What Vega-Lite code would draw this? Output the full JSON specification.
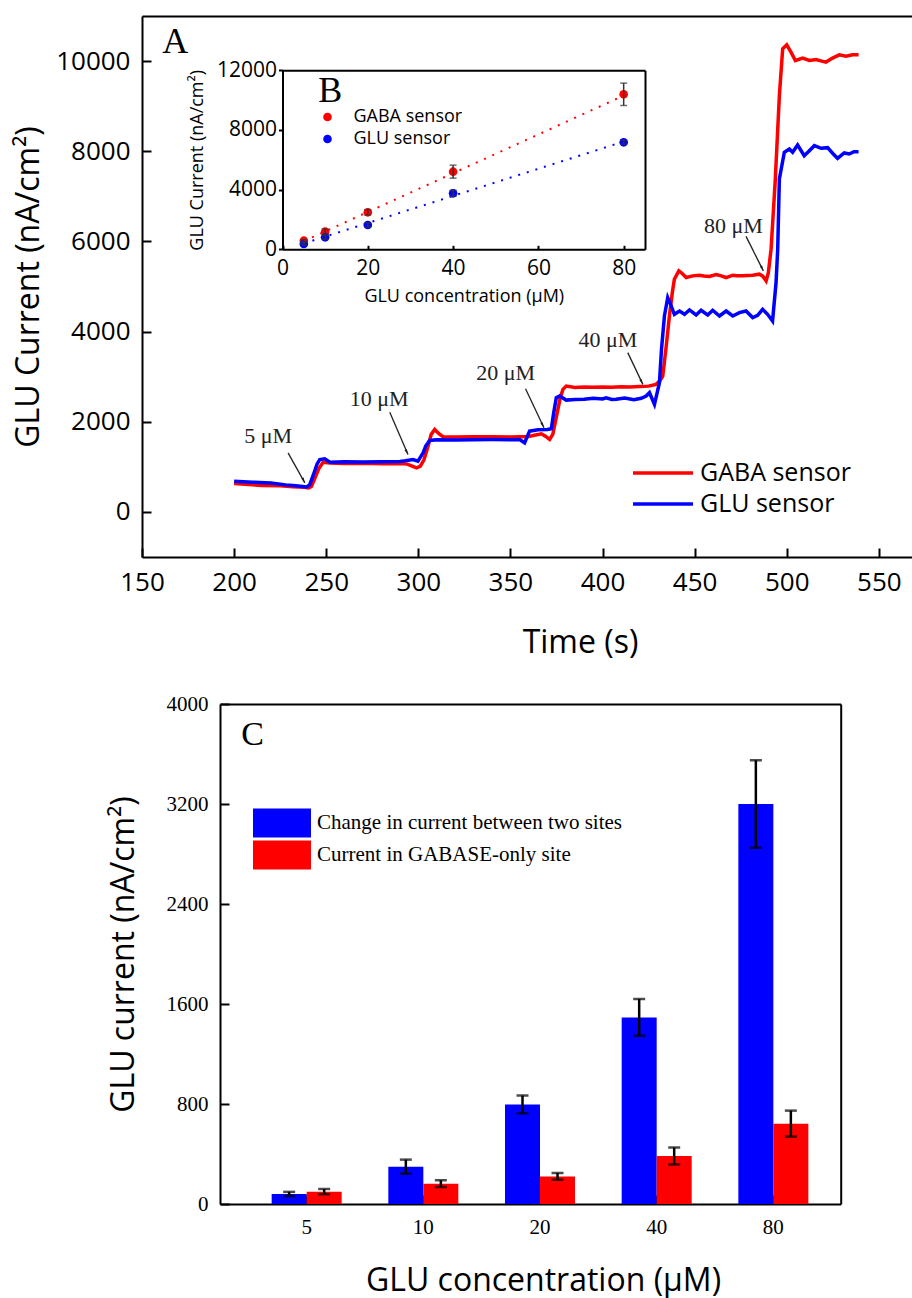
{
  "$schema": "https://vega.github.io/schema/vega-lite/v6.json",
  "width": 912,
  "height": 1298,
  "autosize": {"type": "none"},
  "padding": 0,
  "background": "white",
  "config": {
    "view": {"stroke": null},
    "axis": {"grid": false, "domainColor": "black", "tickColor": "black", "labelColor": "black", "titleColor": "black", "domainWidth": 2, "tickWidth": 2, "labelFlush": false, "labelOverlap": false, "titleFontWeight": "normal", "labelFontWeight": "normal"},
    "legend": {"labelColor": "black", "labelLimit": 0}
  },
  "datasets": {
    "ts": [
      {"t":200,"v":630,"s":"GABA sensor"},{"t":210,"v":600,"s":"GABA sensor"},{"t":215,"v":588,"s":"GABA sensor"},{"t":225,"v":578,"s":"GABA sensor"},{"t":232,"v":560,"s":"GABA sensor"},{"t":238,"v":545,"s":"GABA sensor"},{"t":240.5,"v":533,"s":"GABA sensor"},{"t":242,"v":570,"s":"GABA sensor"},{"t":244,"v":760,"s":"GABA sensor"},{"t":246,"v":960,"s":"GABA sensor"},{"t":248.3,"v":1100,"s":"GABA sensor"},{"t":252,"v":1085,"s":"GABA sensor"},{"t":260,"v":1075,"s":"GABA sensor"},{"t":270,"v":1080,"s":"GABA sensor"},{"t":280,"v":1070,"s":"GABA sensor"},{"t":290,"v":1075,"s":"GABA sensor"},{"t":294,"v":1060,"s":"GABA sensor"},{"t":297,"v":1010,"s":"GABA sensor"},{"t":299,"v":978,"s":"GABA sensor"},{"t":301,"v":1010,"s":"GABA sensor"},{"t":303,"v":1150,"s":"GABA sensor"},{"t":305,"v":1420,"s":"GABA sensor"},{"t":307,"v":1720,"s":"GABA sensor"},{"t":308.9,"v":1829,"s":"GABA sensor"},{"t":311,"v":1740,"s":"GABA sensor"},{"t":313.4,"v":1667,"s":"GABA sensor"},{"t":320,"v":1660,"s":"GABA sensor"},{"t":330,"v":1665,"s":"GABA sensor"},{"t":340,"v":1670,"s":"GABA sensor"},{"t":350,"v":1662,"s":"GABA sensor"},{"t":360,"v":1675,"s":"GABA sensor"},{"t":363,"v":1700,"s":"GABA sensor"},{"t":366.8,"v":1733,"s":"GABA sensor"},{"t":369,"v":1680,"s":"GABA sensor"},{"t":371.3,"v":1607,"s":"GABA sensor"},{"t":373,"v":1720,"s":"GABA sensor"},{"t":375,"v":2120,"s":"GABA sensor"},{"t":377,"v":2520,"s":"GABA sensor"},{"t":378.5,"v":2718,"s":"GABA sensor"},{"t":380.3,"v":2791,"s":"GABA sensor"},{"t":385,"v":2760,"s":"GABA sensor"},{"t":390,"v":2770,"s":"GABA sensor"},{"t":395,"v":2765,"s":"GABA sensor"},{"t":400,"v":2770,"s":"GABA sensor"},{"t":405,"v":2765,"s":"GABA sensor"},{"t":410,"v":2775,"s":"GABA sensor"},{"t":415,"v":2770,"s":"GABA sensor"},{"t":420,"v":2780,"s":"GABA sensor"},{"t":425,"v":2790,"s":"GABA sensor"},{"t":429,"v":2829,"s":"GABA sensor"},{"t":431,"v":2900,"s":"GABA sensor"},{"t":432.7,"v":3013,"s":"GABA sensor"},{"t":434.5,"v":3650,"s":"GABA sensor"},{"t":436.3,"v":4346,"s":"GABA sensor"},{"t":438,"v":4900,"s":"GABA sensor"},{"t":439,"v":5162,"s":"GABA sensor"},{"t":441.4,"v":5346,"s":"GABA sensor"},{"t":443,"v":5300,"s":"GABA sensor"},{"t":445.4,"v":5199,"s":"GABA sensor"},{"t":449,"v":5236,"s":"GABA sensor"},{"t":452.6,"v":5251,"s":"GABA sensor"},{"t":455,"v":5235,"s":"GABA sensor"},{"t":458,"v":5222,"s":"GABA sensor"},{"t":461.7,"v":5266,"s":"GABA sensor"},{"t":464,"v":5240,"s":"GABA sensor"},{"t":467.1,"v":5199,"s":"GABA sensor"},{"t":470.7,"v":5251,"s":"GABA sensor"},{"t":473,"v":5240,"s":"GABA sensor"},{"t":476.1,"v":5236,"s":"GABA sensor"},{"t":478.5,"v":5245,"s":"GABA sensor"},{"t":481.5,"v":5251,"s":"GABA sensor"},{"t":485.1,"v":5273,"s":"GABA sensor"},{"t":487,"v":5230,"s":"GABA sensor"},{"t":488.8,"v":5124,"s":"GABA sensor"},{"t":490,"v":5300,"s":"GABA sensor"},{"t":491.5,"v":5829,"s":"GABA sensor"},{"t":493.8,"v":7384,"s":"GABA sensor"},{"t":496,"v":9235,"s":"GABA sensor"},{"t":497.8,"v":10272,"s":"GABA sensor"},{"t":500,"v":10361,"s":"GABA sensor"},{"t":502.3,"v":10199,"s":"GABA sensor"},{"t":504.7,"v":10013,"s":"GABA sensor"},{"t":508.6,"v":10066,"s":"GABA sensor"},{"t":512.3,"v":10013,"s":"GABA sensor"},{"t":515.9,"v":10035,"s":"GABA sensor"},{"t":519,"v":10000,"s":"GABA sensor"},{"t":521.3,"v":9977,"s":"GABA sensor"},{"t":524.9,"v":10066,"s":"GABA sensor"},{"t":528.5,"v":10139,"s":"GABA sensor"},{"t":532.2,"v":10110,"s":"GABA sensor"},{"t":535.7,"v":10139,"s":"GABA sensor"},{"t":539,"v":10139,"s":"GABA sensor"},
      {"t":200,"v":680,"s":"GLU sensor"},{"t":210,"v":660,"s":"GLU sensor"},{"t":220,"v":640,"s":"GLU sensor"},{"t":228,"v":600,"s":"GLU sensor"},{"t":232,"v":584,"s":"GLU sensor"},{"t":236,"v":570,"s":"GLU sensor"},{"t":239.3,"v":555,"s":"GLU sensor"},{"t":241,"v":600,"s":"GLU sensor"},{"t":243,"v":820,"s":"GLU sensor"},{"t":245,"v":1060,"s":"GLU sensor"},{"t":246.5,"v":1162,"s":"GLU sensor"},{"t":249.2,"v":1177,"s":"GLU sensor"},{"t":252,"v":1102,"s":"GLU sensor"},{"t":260,"v":1110,"s":"GLU sensor"},{"t":270,"v":1105,"s":"GLU sensor"},{"t":280,"v":1112,"s":"GLU sensor"},{"t":290,"v":1120,"s":"GLU sensor"},{"t":293,"v":1135,"s":"GLU sensor"},{"t":297.1,"v":1162,"s":"GLU sensor"},{"t":299.8,"v":1124,"s":"GLU sensor"},{"t":302.6,"v":1311,"s":"GLU sensor"},{"t":304,"v":1460,"s":"GLU sensor"},{"t":306.2,"v":1584,"s":"GLU sensor"},{"t":310,"v":1600,"s":"GLU sensor"},{"t":320,"v":1595,"s":"GLU sensor"},{"t":330,"v":1602,"s":"GLU sensor"},{"t":340,"v":1605,"s":"GLU sensor"},{"t":350,"v":1600,"s":"GLU sensor"},{"t":355,"v":1607,"s":"GLU sensor"},{"t":357.7,"v":1533,"s":"GLU sensor"},{"t":359,"v":1660,"s":"GLU sensor"},{"t":360.4,"v":1791,"s":"GLU sensor"},{"t":365,"v":1820,"s":"GLU sensor"},{"t":370,"v":1830,"s":"GLU sensor"},{"t":372.2,"v":1844,"s":"GLU sensor"},{"t":373.5,"v":2200,"s":"GLU sensor"},{"t":374.9,"v":2533,"s":"GLU sensor"},{"t":376.7,"v":2569,"s":"GLU sensor"},{"t":380.3,"v":2480,"s":"GLU sensor"},{"t":385,"v":2492,"s":"GLU sensor"},{"t":390,"v":2500,"s":"GLU sensor"},{"t":395,"v":2522,"s":"GLU sensor"},{"t":400,"v":2505,"s":"GLU sensor"},{"t":402,"v":2533,"s":"GLU sensor"},{"t":405,"v":2495,"s":"GLU sensor"},{"t":407.4,"v":2500,"s":"GLU sensor"},{"t":412,"v":2525,"s":"GLU sensor"},{"t":417,"v":2490,"s":"GLU sensor"},{"t":421,"v":2520,"s":"GLU sensor"},{"t":423.7,"v":2569,"s":"GLU sensor"},{"t":425.5,"v":2644,"s":"GLU sensor"},{"t":428.2,"v":2384,"s":"GLU sensor"},{"t":430.9,"v":2866,"s":"GLU sensor"},{"t":432,"v":3600,"s":"GLU sensor"},{"t":433.6,"v":4346,"s":"GLU sensor"},{"t":435.4,"v":4755,"s":"GLU sensor"},{"t":437,"v":4600,"s":"GLU sensor"},{"t":439,"v":4384,"s":"GLU sensor"},{"t":441.8,"v":4457,"s":"GLU sensor"},{"t":444.5,"v":4384,"s":"GLU sensor"},{"t":447.2,"v":4480,"s":"GLU sensor"},{"t":450.8,"v":4369,"s":"GLU sensor"},{"t":453.5,"v":4473,"s":"GLU sensor"},{"t":457.1,"v":4369,"s":"GLU sensor"},{"t":459.8,"v":4473,"s":"GLU sensor"},{"t":463.5,"v":4346,"s":"GLU sensor"},{"t":467.1,"v":4457,"s":"GLU sensor"},{"t":470.7,"v":4346,"s":"GLU sensor"},{"t":474.3,"v":4421,"s":"GLU sensor"},{"t":477.9,"v":4457,"s":"GLU sensor"},{"t":481.5,"v":4311,"s":"GLU sensor"},{"t":484.2,"v":4362,"s":"GLU sensor"},{"t":486.9,"v":4495,"s":"GLU sensor"},{"t":489.6,"v":4384,"s":"GLU sensor"},{"t":492.3,"v":4235,"s":"GLU sensor"},{"t":494.2,"v":5088,"s":"GLU sensor"},{"t":495.1,"v":5829,"s":"GLU sensor"},{"t":496,"v":7384,"s":"GLU sensor"},{"t":498.7,"v":7977,"s":"GLU sensor"},{"t":501.4,"v":8050,"s":"GLU sensor"},{"t":503.2,"v":7977,"s":"GLU sensor"},{"t":505.9,"v":8139,"s":"GLU sensor"},{"t":509.5,"v":7902,"s":"GLU sensor"},{"t":512,"v":8000,"s":"GLU sensor"},{"t":515,"v":8124,"s":"GLU sensor"},{"t":518.6,"v":8066,"s":"GLU sensor"},{"t":522.2,"v":8079,"s":"GLU sensor"},{"t":525,"v":7950,"s":"GLU sensor"},{"t":527.6,"v":7844,"s":"GLU sensor"},{"t":531.2,"v":7962,"s":"GLU sensor"},{"t":533.9,"v":7939,"s":"GLU sensor"},{"t":536.5,"v":7990,"s":"GLU sensor"},{"t":539,"v":7991,"s":"GLU sensor"}
    ],
    "arrows": [
      {"label":"5 μM","t1":229.3,"v1":1311,"t2":238.4,"v2":644,"lt":218.5,"lv":1680},
      {"label":"10 μM","t1":284.5,"v1":2213,"t2":294.4,"v2":1273,"lt":278.7,"lv":2496},
      {"label":"20 μM","t1":358.2,"v1":2733,"t2":368.2,"v2":1867,"lt":347.4,"lv":3073},
      {"label":"40 μM","t1":413.7,"v1":3533,"t2":421.9,"v2":2829,"lt":402.9,"lv":3813},
      {"label":"80 μM","t1":477.9,"v1":6111,"t2":487.3,"v2":5347,"lt":471,"lv":6346}
    ],
    "panelA": [{"label":"A","t":168,"v":10430}],
    "inset": [
      {"c":5,"v":577,"lo":500,"hi":650,"s":"GABA sensor"},
      {"c":10,"v":1180,"lo":1000,"hi":1360,"s":"GABA sensor"},
      {"c":20,"v":2480,"lo":2300,"hi":2660,"s":"GABA sensor"},
      {"c":40,"v":5203,"lo":4770,"hi":5640,"s":"GABA sensor"},
      {"c":80,"v":10391,"lo":9640,"hi":11140,"s":"GABA sensor"},
      {"c":5,"v":355,"lo":280,"hi":430,"s":"GLU  sensor"},
      {"c":10,"v":804,"lo":680,"hi":930,"s":"GLU  sensor"},
      {"c":20,"v":1629,"lo":1500,"hi":1760,"s":"GLU  sensor"},
      {"c":40,"v":3754,"lo":3550,"hi":3960,"s":"GLU  sensor"},
      {"c":80,"v":7173,"lo":7050,"hi":7300,"s":"GLU  sensor"}
    ],
    "fits": [
      {"c":5,"v":550,"s":"GABA sensor"},{"c":80,"v":10300,"s":"GABA sensor"},
      {"c":5,"v":395,"s":"GLU  sensor"},{"c":80,"v":7220,"s":"GLU  sensor"}
    ],
    "panelB": [{"label":"B","c":11.2,"v":10612}],
    "bars": [
      {"conc":5,"g":"Change in current between two sites","v":80,"lo":63,"hi":97},
      {"conc":5,"g":"Current in GABASE-only site","v":99,"lo":78,"hi":120},
      {"conc":10,"g":"Change in current between two sites","v":299,"lo":243,"hi":355},
      {"conc":10,"g":"Current in GABASE-only site","v":163,"lo":136,"hi":190},
      {"conc":20,"g":"Change in current between two sites","v":797,"lo":726,"hi":868},
      {"conc":20,"g":"Current in GABASE-only site","v":221,"lo":194,"hi":248},
      {"conc":40,"g":"Change in current between two sites","v":1493,"lo":1346,"hi":1640},
      {"conc":40,"g":"Current in GABASE-only site","v":384,"lo":316,"hi":452},
      {"conc":80,"g":"Change in current between two sites","v":3200,"lo":2850,"hi":3550},
      {"conc":80,"g":"Current in GABASE-only site","v":643,"lo":539,"hi":747}
    ],
    "panelC": [{"label":"C","conc":5,"v":3752}]
  },
  "layer": [
    {
      "layer": [
        {
          "data": {"name": "ts"},
          "mark": {"type": "line", "strokeWidth": 3.5},
          "encoding": {
            "x": {"field": "t", "type": "quantitative", "scale": {"domain": [150, 568], "range": [142, 912], "nice": false, "zero": false},
              "axis": {"orient": "bottom", "offset": -741, "values": [150, 200, 250, 300, 350, 400, 450, 500, 550], "format": "d", "tickSize": -9, "labelPadding": 21, "labelFont": "Open Sans", "labelFontSize": 26, "title": "Time (s)", "titleFont": "Open Sans", "titleFontSize": 32, "titleX": 580, "titleY": 95, "titleBaseline": "alphabetic"}},
            "y": {"field": "v", "type": "quantitative", "scale": {"domain": [-1000, 11000], "range": [557, 16], "nice": false, "zero": false},
              "axis": {"orient": "left", "offset": -142, "values": [0, 2000, 4000, 6000, 8000, 10000], "format": "d", "tickSize": -9, "labelPadding": 21, "labelFont": "Open Sans", "labelFontSize": 26, "title": "GLU Current (nA/cm²)", "titleFont": "Open Sans", "titleFontSize": 32, "titleX": -104, "titleBaseline": "alphabetic"}},
            "color": {"field": "s", "type": "nominal", "scale": {"domain": ["GABA sensor", "GLU sensor"], "range": ["#ff0000", "#0000ff"]},
              "legend": {"orient": "none", "legendX": 631, "legendY": 457.5, "title": null, "symbolType": "stroke", "symbolSize": 3600, "symbolStrokeWidth": 3.5, "labelFont": "Open Sans", "labelFontSize": 25, "labelOffset": 5, "padding": 0, "rowPadding": 0, "clipHeight": 31}}
          }
        },
        {
          "data": {"name": "arrows"},
          "mark": {"type": "rule", "color": "#222222", "strokeWidth": 1.3},
          "encoding": {
            "x": {"field": "t1", "type": "quantitative", "scale": {"domain": [150, 568], "range": [142, 912], "nice": false, "zero": false},
              "axis": {"orient": "top", "offset": -16, "labels": false, "ticks": false, "title": null}},
            "y": {"field": "v1", "type": "quantitative", "scale": {"domain": [-1000, 11000], "range": [557, 16], "nice": false, "zero": false}, "axis": null},
            "x2": {"field": "t2"},
            "y2": {"field": "v2"}
          }
        },
        {
          "data": {"name": "arrows"},
          "mark": {"type": "point", "shape": "M0,0L-0.45,1.8L0.45,1.8Z", "filled": true, "color": "#222222", "opacity": 1, "size": 36, "angle": 154},
          "encoding": {
            "x": {"field": "t2", "type": "quantitative", "scale": {"domain": [150, 568], "range": [142, 912], "nice": false, "zero": false}, "axis": null},
            "y": {"field": "v2", "type": "quantitative", "scale": {"domain": [-1000, 11000], "range": [557, 16], "nice": false, "zero": false}, "axis": null}
          }
        },
        {
          "data": {"name": "arrows"},
          "mark": {"type": "text", "font": "Liberation Serif", "fontSize": 22, "color": "#222222", "baseline": "middle", "align": "center"},
          "encoding": {
            "x": {"field": "lt", "type": "quantitative", "scale": {"domain": [150, 568], "range": [142, 912], "nice": false, "zero": false}, "axis": null},
            "y": {"field": "lv", "type": "quantitative", "scale": {"domain": [-1000, 11000], "range": [557, 16], "nice": false, "zero": false}, "axis": null},
            "text": {"field": "label"}
          }
        },
        {
          "data": {"name": "panelA"},
          "mark": {"type": "text", "font": "Liberation Serif", "fontSize": 36, "color": "black", "baseline": "middle", "align": "center"},
          "encoding": {
            "x": {"field": "t", "type": "quantitative", "scale": {"domain": [150, 568], "range": [142, 912], "nice": false, "zero": false}, "axis": null},
            "y": {"field": "v", "type": "quantitative", "scale": {"domain": [-1000, 11000], "range": [557, 16], "nice": false, "zero": false}, "axis": null},
            "text": {"field": "label"}
          }
        }
      ],
      "resolve": {"axis": {"x": "independent", "y": "independent"}}
    },
    {
      "layer": [
        {
          "data": {"name": "inset"},
          "mark": {"type": "point", "shape": "circle", "filled": true, "opacity": 1, "size": 75, "strokeWidth": 0},
          "encoding": {
            "x": {"field": "c", "type": "quantitative", "scale": {"domain": [0, 85], "range": [282.5, 645], "nice": false, "zero": false},
              "axis": {"orient": "bottom", "offset": -1048.7, "values": [0, 20, 40, 60, 80], "format": "d", "tickSize": -4, "labelPadding": 12, "labelFont": "Open Sans", "labelFontSize": 21, "title": "GLU concentration (μM)", "titleFont": "Open Sans", "titleFontSize": 18, "titleY": 52.4, "titleBaseline": "alphabetic"}},
            "y": {"field": "v", "type": "quantitative", "scale": {"domain": [0, 12000], "range": [249.3, 70.3], "nice": false, "zero": false},
              "axis": {"orient": "left", "offset": -282.5, "values": [0, 4000, 8000, 12000], "format": "d", "tickSize": 4, "labelPadding": 2, "labelFont": "Open Sans", "labelFontSize": 21, "title": "GLU Current (nA/cm²)", "titleFont": "Open Sans", "titleFontSize": 18, "titleX": -80, "titleBaseline": "alphabetic"}},
            "fill": {"field": "s", "type": "nominal", "scale": {"domain": ["GABA sensor", "GLU  sensor"], "range": ["#ff0000", "#0000ff"]},
              "legend": {"orient": "none", "legendX": 318.5, "legendY": 106, "title": null, "symbolType": "circle", "symbolSize": 75, "symbolStrokeWidth": 0, "labelFont": "Open Sans", "labelFontSize": 18, "labelOffset": 17, "padding": 0, "rowPadding": 0, "clipHeight": 22}}
          }
        },
        {
          "data": {"name": "fits"},
          "mark": {"type": "line", "strokeWidth": 2, "strokeDash": [2, 7]},
          "encoding": {
            "x": {"field": "c", "type": "quantitative", "scale": {"domain": [0, 85], "range": [282.5, 645], "nice": false, "zero": false},
              "axis": {"orient": "top", "offset": -70.3, "labels": false, "ticks": false, "title": null}},
            "y": {"field": "v", "type": "quantitative", "scale": {"domain": [0, 12000], "range": [249.3, 70.3], "nice": false, "zero": false},
              "axis": {"orient": "right", "offset": -267, "labels": false, "ticks": false, "title": null}},
            "detail": {"field": "s", "type": "nominal"},
            "stroke": {"field": "s", "type": "nominal", "scale": {"domain": ["GABA sensor", "GLU  sensor"], "range": ["#ff0000", "#0000ff"]}, "legend": null}
          }
        },
        {
          "data": {"name": "inset"},
          "mark": {"type": "rule", "color": "#333333", "strokeWidth": 1.5},
          "encoding": {
            "x": {"field": "c", "type": "quantitative", "scale": {"domain": [0, 85], "range": [282.5, 645], "nice": false, "zero": false}, "axis": null},
            "y": {"field": "lo", "type": "quantitative", "scale": {"domain": [0, 12000], "range": [249.3, 70.3], "nice": false, "zero": false}, "axis": null},
            "y2": {"field": "hi"}
          }
        },
        {
          "data": {"name": "inset"},
          "mark": {"type": "tick", "orient": "horizontal", "color": "#333333", "size": 7, "thickness": 1.5},
          "encoding": {
            "x": {"field": "c", "type": "quantitative", "scale": {"domain": [0, 85], "range": [282.5, 645], "nice": false, "zero": false}, "axis": null},
            "y": {"field": "lo", "type": "quantitative", "scale": {"domain": [0, 12000], "range": [249.3, 70.3], "nice": false, "zero": false}, "axis": null}
          }
        },
        {
          "data": {"name": "inset"},
          "mark": {"type": "tick", "orient": "horizontal", "color": "#333333", "size": 7, "thickness": 1.5},
          "encoding": {
            "x": {"field": "c", "type": "quantitative", "scale": {"domain": [0, 85], "range": [282.5, 645], "nice": false, "zero": false}, "axis": null},
            "y": {"field": "hi", "type": "quantitative", "scale": {"domain": [0, 12000], "range": [249.3, 70.3], "nice": false, "zero": false}, "axis": null}
          }
        },
        {
          "data": {"name": "panelB"},
          "mark": {"type": "text", "font": "Liberation Serif", "fontSize": 36, "color": "black", "baseline": "middle", "align": "center"},
          "encoding": {
            "x": {"field": "c", "type": "quantitative", "scale": {"domain": [0, 85], "range": [282.5, 645], "nice": false, "zero": false}, "axis": null},
            "y": {"field": "v", "type": "quantitative", "scale": {"domain": [0, 12000], "range": [249.3, 70.3], "nice": false, "zero": false}, "axis": null},
            "text": {"field": "label"}
          }
        }
      ],
      "resolve": {"axis": {"x": "independent", "y": "independent"}}
    },
    {
      "layer": [
        {
          "data": {"name": "bars"},
          "mark": {"type": "bar"},
          "encoding": {
            "x": {"field": "conc", "type": "ordinal", "scale": {"type": "band", "range": [220, 840.7], "paddingInner": 0.4, "paddingOuter": 0.36, "align": 0.615},
              "axis": {"orient": "bottom", "offset": -94, "tickSize": -9, "labelPadding": 21, "labelAngle": 0, "labelFont": "Liberation Serif", "labelFontSize": 21, "title": "GLU concentration (μM)", "titleFont": "Open Sans", "titleFontSize": 32, "titleX": 543, "titleY": 86, "titleBaseline": "alphabetic"}},
            "xOffset": {"field": "g", "type": "nominal", "scale": {"domain": ["Change in current between two sites", "Current in GABASE-only site"]}},
            "y": {"field": "v", "type": "quantitative", "scale": {"domain": [0, 4000], "range": [1204, 704], "nice": false},
              "axis": {"orient": "left", "offset": -220, "values": [0, 800, 1600, 2400, 3200, 4000], "format": "d", "tickSize": -9, "labelPadding": 21, "labelFont": "Liberation Serif", "labelFontSize": 21, "title": "GLU current (nA/cm²)", "titleFont": "Open Sans", "titleFontSize": 32, "titleX": -87, "titleBaseline": "alphabetic"}},
            "color": {"field": "g", "type": "nominal", "scale": {"domain": ["Change in current between two sites", "Current in GABASE-only site"], "range": ["#0000ff", "#ff0000"]},
              "legend": {"orient": "none", "legendX": 253, "legendY": 808, "title": null, "symbolType": "M-1,-0.5H1V0.5H-1Z", "symbolSize": 3364, "symbolStrokeWidth": 0, "symbolOpacity": 1, "labelFont": "Liberation Serif", "labelFontSize": 21, "labelOffset": 6, "padding": 0, "rowPadding": 2, "clipHeight": 30}}
          }
        },
        {
          "data": {"name": "bars"},
          "mark": {"type": "rule", "color": "black", "strokeWidth": 2.5},
          "encoding": {
            "x": {"field": "conc", "type": "ordinal", "scale": {"type": "band", "range": [220, 840.7], "paddingInner": 0.4, "paddingOuter": 0.36, "align": 0.615},
              "axis": {"orient": "top", "offset": -704, "labels": false, "ticks": false, "title": null}},
            "xOffset": {"field": "g", "type": "nominal", "scale": {"domain": ["Change in current between two sites", "Current in GABASE-only site"]}},
            "y": {"field": "lo", "type": "quantitative", "scale": {"domain": [0, 4000], "range": [1204, 704], "nice": false},
              "axis": {"orient": "right", "offset": -71.3, "labels": false, "ticks": false, "title": null}},
            "y2": {"field": "hi"}
          }
        },
        {
          "data": {"name": "bars"},
          "mark": {"type": "tick", "orient": "horizontal", "color": "black", "size": 12, "thickness": 2.5},
          "encoding": {
            "x": {"field": "conc", "type": "ordinal", "scale": {"type": "band", "range": [220, 840.7], "paddingInner": 0.4, "paddingOuter": 0.36, "align": 0.615}, "axis": null},
            "xOffset": {"field": "g", "type": "nominal", "scale": {"domain": ["Change in current between two sites", "Current in GABASE-only site"]}},
            "y": {"field": "lo", "type": "quantitative", "scale": {"domain": [0, 4000], "range": [1204, 704], "nice": false}, "axis": null}
          }
        },
        {
          "data": {"name": "bars"},
          "mark": {"type": "tick", "orient": "horizontal", "color": "black", "size": 12, "thickness": 2.5},
          "encoding": {
            "x": {"field": "conc", "type": "ordinal", "scale": {"type": "band", "range": [220, 840.7], "paddingInner": 0.4, "paddingOuter": 0.36, "align": 0.615}, "axis": null},
            "xOffset": {"field": "g", "type": "nominal", "scale": {"domain": ["Change in current between two sites", "Current in GABASE-only site"]}},
            "y": {"field": "hi", "type": "quantitative", "scale": {"domain": [0, 4000], "range": [1204, 704], "nice": false}, "axis": null}
          }
        },
        {
          "data": {"name": "panelC"},
          "mark": {"type": "text", "font": "Liberation Serif", "fontSize": 34, "color": "black", "baseline": "middle", "align": "center", "dx": -54},
          "encoding": {
            "x": {"field": "conc", "type": "ordinal", "scale": {"type": "band", "range": [220, 840.7], "paddingInner": 0.4, "paddingOuter": 0.36, "align": 0.615}, "axis": null},
            "y": {"field": "v", "type": "quantitative", "scale": {"domain": [0, 4000], "range": [1204, 704], "nice": false}, "axis": null},
            "text": {"field": "label"}
          }
        }
      ],
      "resolve": {"axis": {"x": "independent", "y": "independent"}}
    }
  ],
  "resolve": {"scale": {"x": "independent", "y": "independent", "color": "independent", "fill": "independent", "stroke": "independent", "xOffset": "independent"}, "axis": {"x": "independent", "y": "independent"}, "legend": {"color": "independent", "fill": "independent", "stroke": "independent"}}
}
